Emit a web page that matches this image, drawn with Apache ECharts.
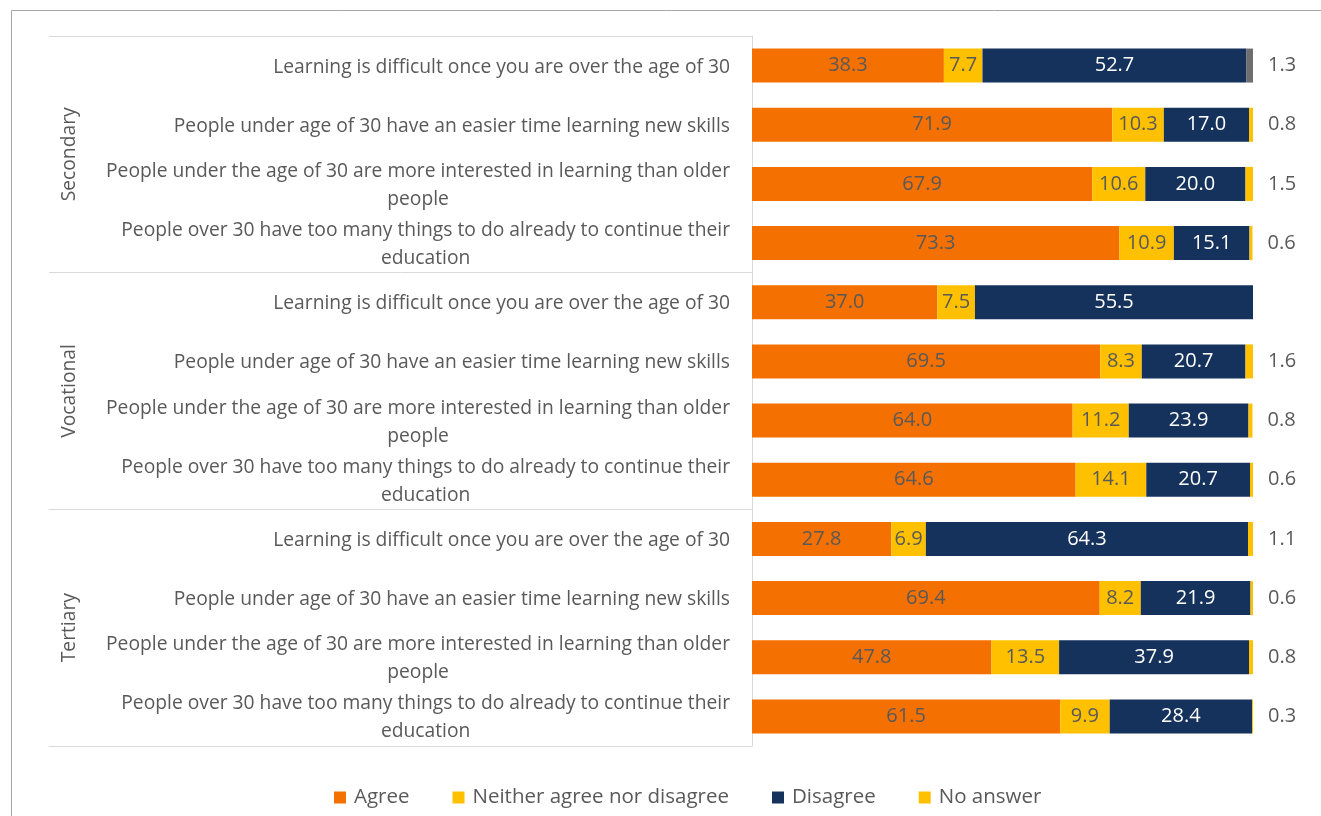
<!DOCTYPE html>
<html>
<head>
<meta charset="utf-8">
<script src="https://cdn.jsdelivr.net/npm/echarts@6/dist/echarts.min.js"></script>
<style>
  html, body { margin: 0; padding: 0; background: #fff; }
  #chart { width: 1321px; height: 816px; }
</style>
</head>
<body>
<div id="chart"></div>
<script>
const groups = ['Secondary', 'Vocational', 'Tertiary'];
const statements = [
  'Learning is difficult once you are over the age of 30',
  'People under age of 30 have an easier time learning new skills',
  'People under the age of 30 are more interested in learning than older\npeople',
  'People over 30 have too many things to do already to continue their\neducation'
];
const categories = groups.flatMap(() => statements);

const agree    = [38.3, 71.9, 67.9, 73.3, 37.0, 69.5, 64.0, 64.6, 27.8, 69.4, 47.8, 61.5];
const neither  = [7.7, 10.3, 10.6, 10.9, 7.5, 8.3, 11.2, 14.1, 6.9, 8.2, 13.5, 9.9];
const disagree = [52.7, 17.0, 20.0, 15.1, 55.5, 20.7, 23.9, 20.7, 64.3, 21.9, 37.9, 28.4];
const noAnswer = [1.3, 0.8, 1.5, 0.6, 0, 1.6, 0.8, 0.6, 1.1, 0.6, 0.8, 0.3];
const greyRows = [0]; // first row's "no answer" is drawn grey in the original

const ORANGE = '#f47000', YELLOW = '#ffc000', NAVY = '#14325c', GREY = '#6e6e6e';
const TXT = '#595959', LINE = '#d9d9d9';
const FONT = 'Open Sans';
const FS = 19.25;

const chart = echarts.init(document.getElementById('chart'));

const fmt = p => (p.value ? Number(p.value).toFixed(1) : '');

function barSeries(name, data, color, labelColor) {
  return {
    name: name,
    type: 'bar',
    stack: 'total',
    barWidth: 34,
    data: data,
    itemStyle: { color: color },
    label: {
      show: true, position: 'inside', formatter: fmt,
      color: labelColor, fontFamily: FONT, fontSize: 20
    },
    emphasis: { disabled: true }
  };
}

const noAnswerSeries = barSeries('No answer', noAnswer.map((v, i) =>
  greyRows.includes(i) ? { value: v, itemStyle: { color: GREY } } : v), YELLOW, TXT);
noAnswerSeries.label.position = 'right';
noAnswerSeries.label.distance = 15;

chart.setOption({
  animation: false,
  textStyle: { fontFamily: FONT },
  graphic: [{
    type: 'rect', left: 9, top: 8, silent: true,
    shape: { width: 1400, height: 900 },
    style: { fill: 'none', stroke: '#a6a6a6', lineWidth: 1 }
  }],
  legend: {
    left: 334, top: 787, padding: 0,
    itemWidth: 12, itemHeight: 12, itemGap: 43, icon: 'rect',
    textStyle: { color: TXT, fontFamily: FONT, fontSize: 20.5, padding: [0, 0, 0, 3] },
    data: ['Agree', 'Neither agree nor disagree', 'Disagree', 'No answer']
  },
  grid: { left: 752, right: 68, top: 36, bottom: 70, outerBoundsMode: 'none' },
  xAxis: { type: 'value', min: 0, max: 100, show: false },
  yAxis: [{
    type: 'category', data: categories, inverse: true,
    axisLine: { show: false }, axisTick: { show: false },
    axisLabel: {
      margin: 22, align: 'right', interval: 0,
      formatter: v => v.split('\n').map(l => '{c|' + l + '}').join('\n'),
      rich: { c: { align: 'center', color: TXT, fontFamily: FONT, fontSize: FS, lineHeight: 28, padding: [3, 0, 0, 0] } }
    }
  }, {
    type: 'category', data: groups, inverse: true, position: 'left',
    axisLine: { show: true, lineStyle: { color: LINE } },
    axisTick: { show: true, length: 703, lineStyle: { color: LINE } },
    axisLabel: { rotate: 90, margin: 673, color: TXT, fontFamily: FONT, fontSize: FS }
  }],
  series: [
    barSeries('Agree', agree, ORANGE, TXT),
    barSeries('Neither agree nor disagree', neither, YELLOW, TXT),
    barSeries('Disagree', disagree, NAVY, '#ffffff'),
    noAnswerSeries
  ]
});

window.addEventListener('resize', () => chart.resize());
</script>
</body>
</html>
